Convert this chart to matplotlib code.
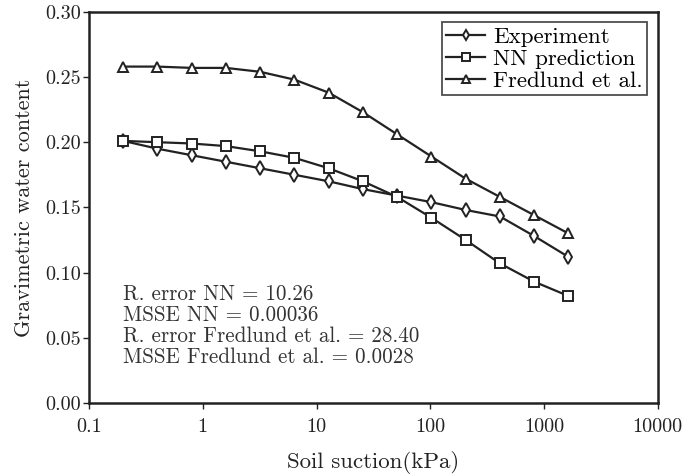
import numpy as np
import matplotlib.pyplot as plt

plt.rcParams['font.family'] = ['cmr10', 'DejaVu Serif']
plt.rcParams['axes.formatter.use_mathtext'] = True

# * Data

suction = [0.2, 0.4, 0.8, 1.6, 3.2, 6.4, 12.8, 25.6, 51.2, 102.4, 204.8, 409.6, 819.2, 1638.4]
experiment = [0.201, 0.195, 0.190, 0.185, 0.180, 0.175, 0.170, 0.164, 0.159, 0.154, 0.148, 0.143, 0.128, 0.112]
nn_pred = [0.201, 0.200, 0.199, 0.197, 0.193, 0.188, 0.180, 0.170, 0.158, 0.142, 0.125, 0.107, 0.093, 0.082]
fredlund = [0.258, 0.258, 0.257, 0.257, 0.254, 0.248, 0.238, 0.223, 0.206, 0.189, 0.172, 0.158, 0.144, 0.130]

stats = ["R. error NN = 10.26",
         "MSSE NN = 0.00036",
         "R. error Fredlund et al. = 28.40",
         "MSSE Fredlund et al. = 0.0028"]

xticks = [0.1, 1, 10, 100, 1000, 10000]
xticklabels = ["0.1", "1", "10", "100", "1000", "10000"]
yticks = [0.00, 0.05, 0.10, 0.15, 0.20, 0.25, 0.30]

# * Plot

fig = plt.figure(figsize=(6.82, 4.74), dpi=100)
ax = fig.add_axes([0.1305, 0.150, 0.834, 0.825])

ink = '#222222'
style = dict(color=ink, lw=1.6, mfc='white', mec=ink, mew=1.4)
ax.plot(suction, experiment, marker='d', ms=7, label='Experiment', **style)
ax.plot(suction, nn_pred, marker='s', ms=6.5, label='NN prediction', **style)
ax.plot(suction, fredlund, marker='^', ms=7.5, label='Fredlund et al.', **style)

ax.set_xscale('log')
ax.set_xlim(0.1, 10000)
ax.set_ylim(0, 0.30)
ax.set_xticks(xticks)
ax.set_xticklabels(xticklabels)
ax.minorticks_off()
ax.set_yticks(yticks)
ax.set_yticklabels(["%.2f" % v for v in yticks])
ax.tick_params(labelsize=14.5, length=4, width=1, colors=ink)
ax.tick_params(axis='x', pad=7)
ax.tick_params(axis='y', pad=2)

for s in ax.spines.values():
    s.set_linewidth(1.8)
    s.set_color(ink)

ax.set_xlabel("Soil suction(kPa)", fontsize=16.5, color=ink, labelpad=11)
ax.set_ylabel("Gravimetric water content", fontsize=16, color=ink, labelpad=8)

ax.text(0.2, 0.0905, "\n".join(stats), fontsize=15.2, color='#333333',
        va='top', ha='left', linespacing=1.08)

leg = ax.legend(loc='upper right', fontsize=16.5, frameon=True, fancybox=False,
                handlelength=1.7, handletextpad=0.35, borderpad=0.2,
                labelspacing=0.08, borderaxespad=0.45, markerscale=0.8)
leg.get_frame().set_edgecolor(ink)
leg.get_frame().set_linewidth(1.3)

plt.savefig("out.png", dpi=100)
